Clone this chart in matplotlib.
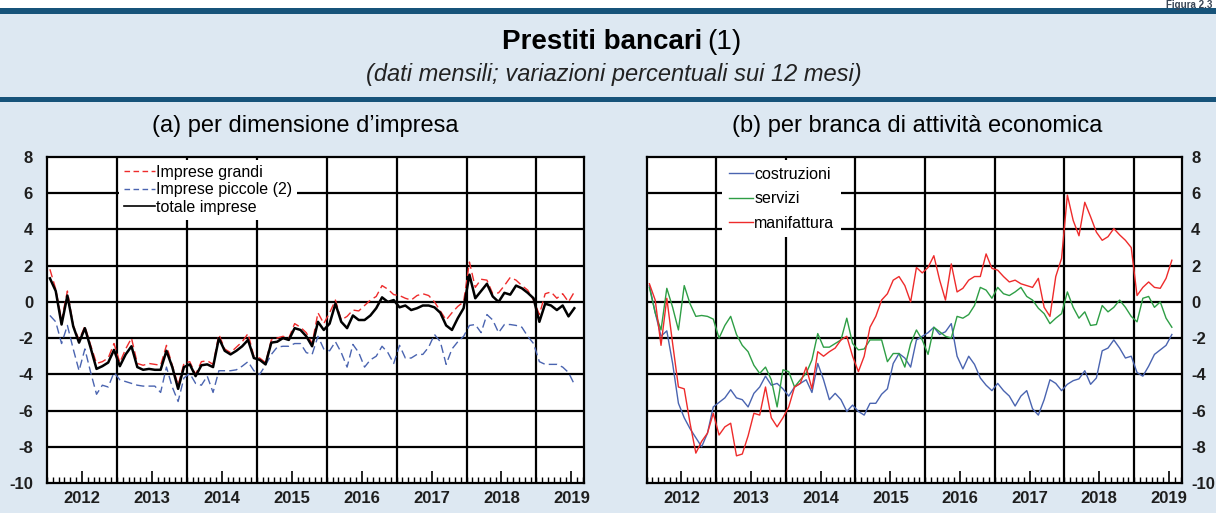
import numpy as np
import matplotlib
matplotlib.use("Agg")
import matplotlib.pyplot as plt
from matplotlib.patches import Rectangle
from matplotlib.lines import Line2D

# ---------------- data (monthly, Jan 2012 - Jul 2019) ----------------
start_year = 2012
n_months = 91
year_labels = ["2012", "2013", "2014", "2015", "2016", "2017", "2018", "2019"]
yticks = [-10, -8, -6, -4, -2, 0, 2, 4, 6, 8]

imprese_grandi = [
    1.8, 0.7, -1.0, 0.6, -1.3, -2.1, -1.35, -2.4, -3.4, -3.3, -3.1, -2.3,
    -3.35, -2.6, -2.0, -3.4, -3.5, -3.4, -3.45, -3.5, -2.4, -3.5, -4.6, -3.4,
    -3.3, -4.0, -3.3, -3.25, -3.45, -1.8, -2.6, -2.8, -2.5, -2.2, -1.75, -3.0,
    -3.1, -3.35, -2.1, -2.0, -1.9, -2.0, -1.2, -1.4, -1.7, -2.3, -0.6, -1.2,
    -0.6, 0.1, -1.0, -0.8, -0.45, -0.5, -0.2, 0.1, 0.3, 0.9, 0.7, 0.4,
    0.35, 0.2, 0.1, 0.35, 0.45, 0.35, 0.0, -0.5, -1.0, -0.6, -0.25, 0.0,
    2.2, 0.8, 1.25, 1.2, 0.45, 0.5, 0.9, 1.35, 1.2, 0.9, 0.65, 0.1,
    -0.7, 0.45, 0.55, 0.2, 0.45, 0.0, 0.55]

imprese_piccole = [
    -0.75, -1.1, -2.3, -1.3, -2.6, -3.8, -2.6, -3.9, -5.1, -4.6, -4.7, -3.9,
    -4.3, -4.4, -4.5, -4.6, -4.65, -4.65, -4.65, -5.0, -3.6, -4.7, -5.5, -4.2,
    -3.95, -4.5, -4.6, -4.1, -5.0, -3.8, -3.8, -3.8, -3.75, -3.55, -3.3, -3.8,
    -4.0, -3.5, -2.9, -2.5, -2.45, -2.45, -2.3, -2.3, -2.8, -2.9, -1.9, -2.6,
    -2.7, -2.2, -2.8, -3.6, -2.35, -2.8, -3.6, -3.2, -3.0, -2.45, -2.8, -3.4,
    -2.4, -3.1, -3.1, -2.9, -2.9, -2.5, -1.8, -2.2, -3.45, -2.6, -2.2, -1.9,
    -1.3, -1.25, -1.7, -0.7, -1.0, -1.7, -1.25, -1.25, -1.3, -1.4, -1.9, -2.3,
    -3.3, -3.45, -3.45, -3.45, -3.6, -3.9, -4.55]

totale_imprese = [
    1.3, 0.6, -1.25, 0.35, -1.35, -2.25, -1.45, -2.55, -3.7, -3.55, -3.35, -2.65,
    -3.55, -2.9, -2.45, -3.6, -3.75, -3.7, -3.75, -3.75, -2.7, -3.6, -4.8, -3.6,
    -3.45, -4.1, -3.5, -3.45, -3.6, -2.0, -2.7, -2.9, -2.7, -2.45, -2.1, -3.1,
    -3.2, -3.45, -2.25, -2.2, -2.0, -2.1, -1.45, -1.55, -1.9, -2.45, -1.1, -1.55,
    -1.2, -0.1, -1.1, -1.45, -0.75, -1.0, -1.0, -0.75, -0.35, 0.25, 0.0, 0.1,
    -0.3, -0.2, -0.45, -0.35, -0.2, -0.2, -0.3, -0.6, -1.3, -1.55, -0.9, -0.35,
    1.5, 0.2, 0.6, 1.0, 0.3, 0.0, 0.5, 0.4, 0.9, 0.75, 0.5, 0.2,
    -1.1, -0.1, -0.2, -0.45, -0.2, -0.8, -0.35]

costruzioni = [
    0.9, -0.6, -1.9, -1.6, -3.4, -5.6, -6.4, -7.0, -7.5, -8.0, -7.25, -5.8,
    -5.55, -5.3, -4.85, -5.3, -5.4, -5.8, -5.05, -4.7, -4.1, -4.6, -4.5, -4.8,
    -5.2, -4.7, -4.5, -4.3, -5.0, -3.4, -4.3, -5.4, -5.05, -5.4, -6.05, -5.7,
    -6.05, -6.25, -5.6, -5.6, -5.1, -4.8, -3.4, -2.85, -3.1, -3.6, -2.1, -1.9,
    -1.7, -1.4, -1.8, -1.65, -1.2, -3.0, -3.7, -3.0, -3.45, -4.2, -4.6, -4.9,
    -4.5, -4.9, -5.2, -5.75, -5.2, -4.9, -5.9, -6.25, -5.4, -4.3, -4.5, -4.9,
    -4.55, -4.35, -4.25, -3.8, -4.55, -4.2, -2.7, -2.55, -2.1, -2.55, -3.1, -3.0,
    -3.9, -4.1, -3.55, -2.9, -2.65, -2.4, -1.8]

servizi = [
    0.8, -0.6, -1.55, 0.75, -0.3, -1.55, 0.9, -0.1, -0.8, -0.75, -0.8, -0.95,
    -2.0, -1.3, -0.8, -1.8, -2.4, -2.75, -3.5, -3.95, -3.6, -4.3, -5.8, -3.75,
    -3.85, -4.7, -4.3, -3.95, -3.2, -1.75, -2.5, -2.5, -2.3, -2.1, -0.9, -2.3,
    -2.65, -2.6, -2.1, -2.1, -2.1, -3.3, -2.85, -2.85, -3.6, -2.3, -1.55, -2.1,
    -2.9, -1.4, -1.65, -1.9, -2.0, -0.8, -0.9, -0.7, -0.2, 0.8, 0.65, 0.2,
    0.8, 0.45, 0.35, 0.55, 0.8, 0.3, 0.1, -0.35, -0.65, -1.2, -0.9, -0.65,
    0.55, -0.3, -0.9, -0.55, -1.3, -1.25, -0.2, -0.55, -0.3, 0.1, -0.3, -0.8,
    -1.1, 0.2, 0.3, -0.3, 0.0, -0.9, -1.4]

manifattura = [
    1.0, 0.1, -2.4, 0.2, -2.3, -4.7, -4.8, -6.7, -8.35, -7.7, -7.25, -6.15,
    -7.35, -6.9, -6.7, -8.5, -8.4, -7.4, -6.15, -6.25, -4.7, -6.4, -6.9, -6.4,
    -5.8, -4.7, -4.5, -3.6, -4.8, -2.75, -3.0, -2.75, -2.55, -2.1, -1.9, -3.0,
    -3.85, -3.0, -1.4, -0.8, 0.1, 0.45, 1.2, 1.4, 0.9, 0.0, 1.9, 1.6,
    1.9, 2.55, 1.2, 0.1, 2.1, 0.55, 0.75, 1.2, 1.4, 1.4, 2.65, 1.85,
    1.75, 1.4, 1.1, 1.2, 1.0, 0.9, 0.8, 1.3, -0.3, -0.8, 1.4, 2.4,
    5.9, 4.5, 3.65, 5.5, 4.7, 3.85, 3.4, 3.6, 4.05, 3.7, 3.4, 3.0,
    0.35, 0.8, 1.1, 0.8, 0.75, 1.3, 2.3]

# decimal-year positions of the monthly observations
x = start_year + (np.arange(n_months) + 0.5) / 12.0

# ---------------- styling ----------------
W, H = 1216, 513
BG = "#dde8f2"
DARK = "#16537a"
RED = "#ee2b2b"
BLUE = "#4a64b0"
GREEN = "#2e9e45"
TXT = "#1e1e1e"
FONT = ["Liberation Sans", "DejaVu Sans"]
plt.rcParams["font.family"] = FONT

fig = plt.figure(figsize=(W / 100, H / 100), dpi=100, facecolor=BG)


def fx(px):
    return px / W


def fy(py):
    return 1 - py / H


# header bands
fig.patches.append(Rectangle((0, fy(8)), 1, 8 / H, transform=fig.transFigure,
                             facecolor="white", edgecolor="none", zorder=0))
fig.patches.append(Rectangle((0, fy(14)), 1, 6 / H, transform=fig.transFigure,
                             facecolor=DARK, edgecolor="none", zorder=1))
fig.patches.append(Rectangle((0, fy(102)), 1, 5 / H, transform=fig.transFigure,
                             facecolor=DARK, edgecolor="none", zorder=1))

fig.text(fx(1212), fy(7.5), "Figura 2.3", ha="right", va="baseline",
         fontsize=7, fontweight="bold", color="#3a4656")

fig.text(fx(702), fy(42), "Prestiti bancari", ha="right", va="center",
         fontsize=20, fontweight="bold", color="black")
fig.text(fx(707), fy(42), "(1)", ha="left", va="center",
         fontsize=20, color="black")
fig.text(fx(614), fy(74), "(dati mensili; variazioni percentuali sui 12 mesi)",
         ha="center", va="center", fontsize=17, style="italic", color="#222222")

# axes geometry (pixels)
ax_top, ax_bot = 157, 483
left_ax = fig.add_axes([fx(47), fy(ax_bot), fx(584 - 47), (ax_bot - ax_top) / H])
right_ax = fig.add_axes([fx(646.5), fy(ax_bot), fx(1181.5 - 646.5), (ax_bot - ax_top) / H])

fig.text(fx(305), fy(126), "(a) per dimensione d’impresa", ha="center",
         va="center", fontsize=17, color="black")
fig.text(fx(917), fy(126), "(b) per branca di attività economica", ha="center",
         va="center", fontsize=17, color="black")


def style_axis(ax, right=False):
    ax.set_facecolor("white")
    ax.set_xlim(2012.0, 2019.68)
    ax.set_ylim(-10, 8)
    ax.set_yticks(yticks)
    ax.set_yticklabels([str(v) for v in yticks])
    for y in yticks[1:-1]:
        ax.axhline(y, color="black", lw=1.6, zorder=1)
    for yr in range(2013, 2020):
        ax.axvline(yr, color="black", lw=1.6, zorder=1)
    ax.set_xticks(np.arange(2012.5, 2020.0, 1.0))
    ax.set_xticklabels(year_labels)
    ax.set_xticks(np.arange(2012.0, 2019.68, 1 / 12.0), minor=True)
    ax.tick_params(axis="x", which="major", direction="in", length=9, width=1.2,
                   pad=6, labelsize=12, labelcolor=TXT, colors="black")
    ax.tick_params(axis="x", which="minor", direction="in", length=4, width=1.0,
                   colors="black")
    ax.tick_params(axis="y", which="both", length=0, labelsize=12, labelcolor=TXT,
                   pad=(7 if right else 10), left=not right, right=right,
                   labelleft=not right, labelright=right)
    for lab in ax.get_xticklabels() + ax.get_yticklabels():
        lab.set_fontweight("bold")
    for sp in ax.spines.values():
        sp.set_color("black")
        sp.set_linewidth(1.6)


style_axis(left_ax)
style_axis(right_ax, right=True)

# left panel series
left_ax.plot(x, imprese_piccole, color=BLUE, lw=1.0, dashes=(6, 3), zorder=3,
             label="Imprese piccole (2)")
left_ax.plot(x, imprese_grandi, color=RED, lw=1.0, dashes=(6, 3), zorder=4,
             label="Imprese grandi")
left_ax.plot(x, totale_imprese, color="black", lw=1.8, zorder=5,
             label="totale imprese")

handles = [Line2D([], [], color=RED, lw=1.0, dashes=(4, 2.5)),
           Line2D([], [], color=BLUE, lw=1.0, dashes=(4, 2.5)),
           Line2D([], [], color="black", lw=1.2)]
leg = left_ax.legend(handles, ["Imprese grandi", "Imprese piccole (2)", "totale imprese"],
                     loc="upper left", bbox_to_anchor=(0.135, 0.99), fontsize=11.5,
                     frameon=True, fancybox=False, framealpha=1, facecolor="white",
                     edgecolor="none", handlelength=1.9, handletextpad=0.1,
                     labelspacing=0.15, borderpad=0.3, borderaxespad=0)
leg.set_zorder(10)

# right panel series
right_ax.plot(x, costruzioni, color=BLUE, lw=1.0, zorder=3, label="costruzioni")
right_ax.plot(x, servizi, color=GREEN, lw=1.0, zorder=4, label="servizi")
right_ax.plot(x, manifattura, color=RED, lw=1.0, zorder=5, label="manifattura")
leg2 = right_ax.legend(loc="upper left", bbox_to_anchor=(0.142, 0.99), fontsize=11.5,
                       frameon=True, fancybox=False, framealpha=1, facecolor="white",
                       edgecolor="none", handlelength=1.5, handletextpad=0.1,
                       labelspacing=0.6, borderpad=0.4, borderaxespad=0)
leg2.set_zorder(10)

fig.savefig("out.png", dpi=100, facecolor=BG)
